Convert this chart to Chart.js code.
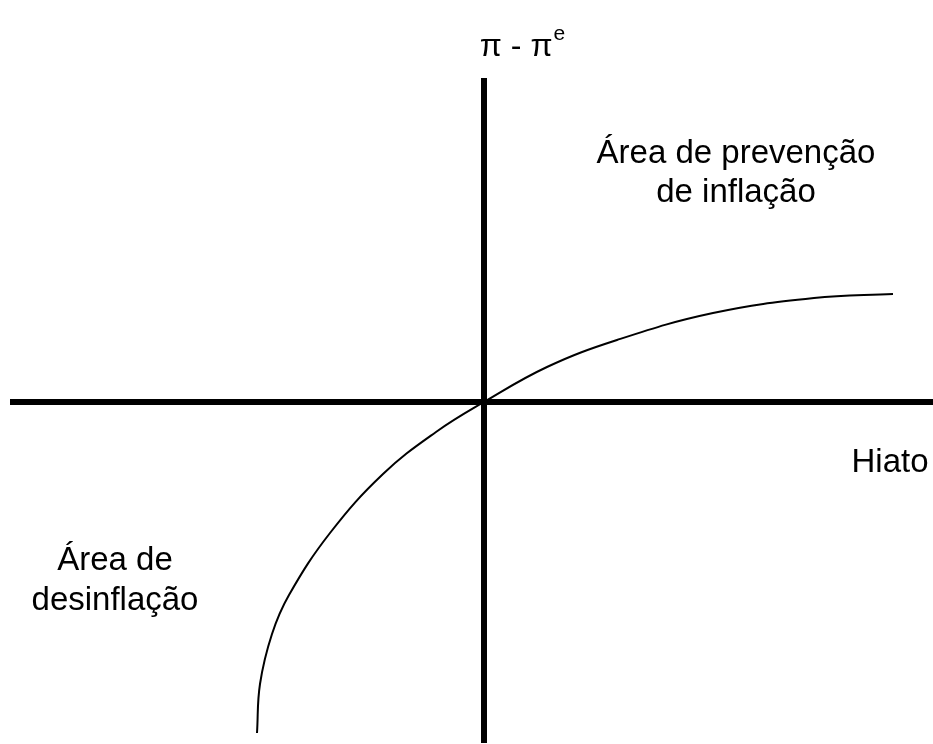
<!DOCTYPE html>
<html>
<head>
<meta charset="utf-8">
<script src="https://cdn.jsdelivr.net/npm/chart.js@4"></script>
<style>
  html, body { margin: 0; padding: 0; background: #fff; }
  #wrap { width: 933px; height: 744px; }
</style>
</head>
<body>
<div id="wrap"><canvas id="chart"></canvas></div>
<script>
// Curva (hiato, pi - pi^e), origem no cruzamento dos eixos
const curveX = [-227, -224, -212, -195, -154, -101, -48, 0, 63, 133, 229, 330, 409];
const curveY = [-331, -282, -232, -193, -131, -72, -30, 0, 35, 62, 89, 104, 108];

// Extensao dos eixos
const xAxisX = [-474, 449];
const yAxisY = [-341, 324];

const labelTop = ['π - π', 'e'];
const labelUpper = ['Área de prevenção', 'de inflação'];
const labelLower = ['Área de', 'desinflação'];
const labelHiato = 'Hiato';

const FONT = '"Liberation Sans", Arial, sans-serif';

const textPlugin = {
    id: 'textos',
    afterDraw(chart) {
        const c = chart.ctx;
        c.save();
        c.fillStyle = '#000';
        c.textBaseline = 'alphabetic';
        c.font = '32px ' + FONT;

        // titulo do eixo vertical
        c.textAlign = 'left';
        const w1 = c.measureText(labelTop[0]).width;
        c.font = '21px ' + FONT;
        const w2 = c.measureText(labelTop[1]).width;
        let x0 = 522 - (w1 + w2) / 2;
        c.font = '32px ' + FONT;
        c.fillText(labelTop[0], x0, 56);
        c.font = '21px ' + FONT;
        c.fillText(labelTop[1], x0 + w1 + 1, 40);

        c.font = '33px ' + FONT;
        c.textAlign = 'center';
        c.fillText(labelUpper[0], 736, 163);
        c.fillText(labelUpper[1], 736, 202);
        c.fillText(labelLower[0], 115, 570);
        c.fillText(labelLower[1], 115, 610);
        c.fillText(labelHiato, 890, 472);
        c.restore();
    }
};

function renderChart(el) {
    new Chart(el, {
        type: 'scatter',
        data: {
            datasets: [
                {
                    data: xAxisX.map(x => ({ x: x, y: 0 })),
                    showLine: true,
                    borderColor: '#000',
                    borderWidth: 6,
                    pointRadius: 0,
                    borderCapStyle: 'butt'
                },
                {
                    data: yAxisY.map(y => ({ x: 0, y: y })),
                    showLine: true,
                    borderColor: '#000',
                    borderWidth: 6,
                    pointRadius: 0,
                    borderCapStyle: 'butt'
                },
                {
                    data: curveX.map((x, i) => ({ x: x, y: curveY[i] })),
                    showLine: true,
                    borderColor: '#000',
                    borderWidth: 2,
                    pointRadius: 0,
                    tension: 0.4
                }
            ]
        },
        options: {
            responsive: true,
            maintainAspectRatio: false,
            animation: false,
            layout: { padding: 0 },
            plugins: {
                legend: { display: false },
                tooltip: { enabled: false }
            },
            scales: {
                x: { type: 'linear', display: false, min: -484, max: 449 },
                y: { type: 'linear', display: false, min: -342, max: 402 }
            }
        },
        plugins: [textPlugin]
    });
}

document.addEventListener('DOMContentLoaded', () => renderChart(document.getElementById('chart')));
</script>
</body>
</html>
